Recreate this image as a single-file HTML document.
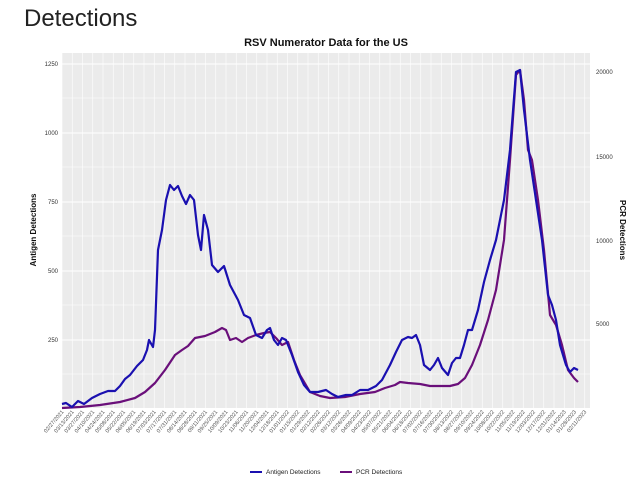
<!DOCTYPE html>
<html><head><style>
body{margin:0;background:#fff;width:630px;height:479px;overflow:hidden;font-family:"Liberation Sans",sans-serif}
</style></head><body>
<svg width="630" height="479" xmlns="http://www.w3.org/2000/svg" font-family="Liberation Sans, sans-serif">
<text x="24" y="26" font-size="24" fill="#222">Detections</text>
<text x="326" y="46" font-size="11" font-weight="bold" text-anchor="middle" fill="#111">RSV Numerator Data for the US</text>
<rect x="62" y="53" width="528" height="355" fill="#ebebeb"/>
<g stroke="#fff" stroke-width="0.6" id="vg"></g>
<g stroke="#fff" stroke-width="1">
<line x1="62" x2="590" y1="409" y2="409"/><line x1="62" x2="590" y1="340" y2="340"/><line x1="62" x2="590" y1="271" y2="271"/><line x1="62" x2="590" y1="202" y2="202"/><line x1="62" x2="590" y1="133" y2="133"/><line x1="62" x2="590" y1="64" y2="64"/>
<line x1="62" x2="590" y1="374" y2="374" stroke-width="0.5"/><line x1="62" x2="590" y1="305" y2="305" stroke-width="0.5"/><line x1="62" x2="590" y1="236" y2="236" stroke-width="0.5"/><line x1="62" x2="590" y1="167" y2="167" stroke-width="0.5"/><line x1="62" x2="590" y1="98" y2="98" stroke-width="0.5"/>
</g>
<g font-size="6" fill="#333" text-anchor="end">
<text x="58" y="342">250</text><text x="58" y="273">500</text><text x="58" y="204">750</text><text x="58" y="135">1000</text><text x="58" y="66">1250</text>
</g>
<g font-size="6" fill="#333">
<text x="596" y="326">5000</text><text x="596" y="243">10000</text><text x="596" y="159">15000</text><text x="596" y="74">20000</text>
</g>
<text transform="translate(36,230) rotate(-90)" font-size="8" font-weight="bold" text-anchor="middle" fill="#111">Antigen Detections</text>
<text transform="translate(620,230) rotate(90)" font-size="8" font-weight="bold" text-anchor="middle" fill="#111">PCR Detections</text>
<g id="xl" font-size="5.5" fill="#555"></g>
<polyline fill="none" stroke="#6a0f7a" stroke-width="2.2" stroke-linejoin="round" points="62,408 80,407 100,405 120,402 135,398 145,392 155,383 165,370 175,355 182,350 188,346 195,338 205,336 215,332 222,328 226,330 230,340 236,338 242,342 248,338 256,335 264,333 270,332 276,338 282,345 288,342 294,360 300,375 310,392 320,396 330,398 345,397 360,394 375,392 385,388 395,385 400,382 408,383 420,384 430,386 440,386 450,386 458,384 465,378 472,365 480,345 488,320 496,290 504,240 510,160 516,75 520,70 524,100 528,150 532,160 538,200 544,250 550,315 556,325 562,345 568,370 574,378 578,382"/>
<polyline fill="none" stroke="#1a10b0" stroke-width="2.2" stroke-linejoin="round" points="62,404 66,403 72,407 78,401 84,404 92,398 100,394 108,391 115,391 120,386 125,379 130,375 137,366 143,360 147,350 149,340 153,347 155,330 158,250 162,230 166,200 170,185 174,190 178,186 182,196 186,204 190,195 194,200 198,235 201,250 204,215 208,230 212,265 218,272 224,266 230,285 238,300 244,315 250,318 256,335 262,338 267,330 270,328 274,340 278,345 282,338 286,340 292,355 298,372 304,385 310,392 318,392 326,390 332,394 338,397 346,395 352,395 360,390 368,390 376,386 382,380 390,365 396,352 402,340 408,337 412,338 416,335 420,345 424,365 430,370 434,365 438,358 442,368 448,375 452,363 456,358 460,358 464,345 468,330 472,330 478,310 484,282 490,260 496,240 504,200 510,150 516,72 520,70 524,110 530,160 536,200 542,240 548,295 552,305 556,320 560,345 566,365 570,372 574,368 578,370"/>
<g font-size="6.5" fill="#222">
<line x1="250" x2="262" y1="472" y2="472" stroke="#1a10b0" stroke-width="2"/><text x="266" y="474">Antigen Detections</text>
<line x1="340" x2="352" y1="472" y2="472" stroke="#6a0f7a" stroke-width="2"/><text x="356" y="474">PCR Detections</text>
</g>
<script>
var vg=document.getElementById('vg'),xl=document.getElementById('xl');
var d=new Date(2021,1,27);
for(var i=0;i<52;i++){var x=62+i*10.25;
var l=document.createElementNS('http://www.w3.org/2000/svg','line');l.setAttribute('x1',x);l.setAttribute('x2',x);l.setAttribute('y1',53);l.setAttribute('y2',408);vg.appendChild(l);
var t=document.createElementNS('http://www.w3.org/2000/svg','text');
var s=('0'+(d.getMonth()+1)).slice(-2)+'/'+('0'+d.getDate()).slice(-2)+'/'+d.getFullYear();
t.textContent=s;t.setAttribute('text-anchor','end');t.setAttribute('transform','translate('+(x+2)+',412) rotate(-50)');xl.appendChild(t);
d.setDate(d.getDate()+14);}
</script>
</svg>
</body></html>
